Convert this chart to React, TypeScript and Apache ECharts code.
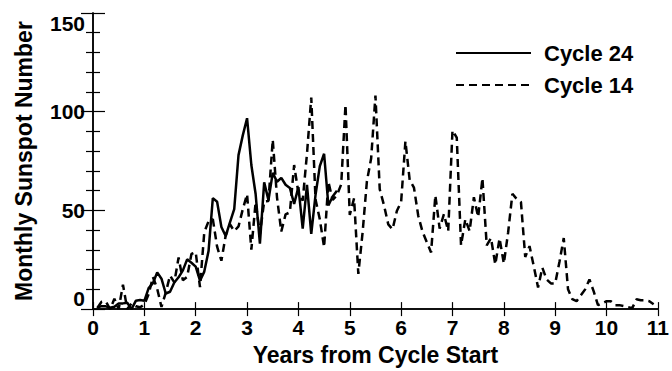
import React, { useEffect, useRef } from "react";
import * as echarts from "echarts";

// Monthly sunspot numbers, Cycle 24 (first point = month 1 after cycle start)
const cycle24Values: number[] = [
  0.8, 1.5, 1.4, 0.7, 1.2, 2.9, 2.9, 3.2, 0.0, 4.2, 4.6, 4.2,
  10.6, 13.1, 18.6, 15.4, 7.9, 8.8, 13.5, 16.1, 19.6, 25.2, 23.5, 21.5,
  14.4, 19.0, 29.4, 56.2, 54.4, 41.6, 37.0, 43.9, 50.6, 78.0, 88.0, 96.7,
  73.0, 58.3, 33.1, 64.2, 55.2, 69.0, 64.5, 66.5, 63.0, 61.4, 53.3, 61.8,
  40.8, 62.9, 38.1, 57.9, 72.4, 78.7, 52.5, 57.0, 60.0,
];

// Monthly sunspot numbers, Cycle 14 (first point = month 1 after cycle start)
const cycle14Values: number[] = [
  0.6, 3.7, 3.8, 0.0,
  5.2, 0.0, 12.4, 0.0, 2.8, 1.4, 0.9, 2.3, 7.6, 16.3, 10.3, 1.1,
  8.3, 17.0, 13.5, 26.1, 14.6, 16.3, 27.9, 28.8, 11.1, 38.9, 44.5, 45.6,
  31.6, 24.5, 37.2, 43.0, 39.5, 41.9, 50.6, 58.2, 30.1, 54.2, 38.0, 54.6,
  54.8, 85.8, 56.5, 39.3, 48.0, 49.0, 73.0, 58.8, 55.0, 78.7, 107.2, 55.5,
  45.5, 31.3, 64.5, 55.3, 57.7, 63.2, 103.6, 47.7, 56.1, 17.8, 38.9, 64.7,
  76.4, 108.2, 60.7, 52.6, 42.9, 40.4, 49.7, 54.3, 85.0, 65.4, 61.5, 47.3,
  39.2, 33.9, 28.7, 57.6, 40.8, 48.1, 39.5, 90.5, 86.9, 32.3, 45.5, 39.5,
  56.7, 46.6, 66.3, 32.3, 36.0, 22.6, 35.8, 23.1, 38.8, 58.4, 55.8, 54.2,
  26.4, 31.9, 21.7, 11, 21, 15, 13, 13, 24, 36, 10, 5,
  4, 7, 10, 15, 9, 2, 3, 4, 4, 2, 2, 1.5,
  1, 0.5, 5, 4.5, 4.5, 4, 2.5,
];

const startMonth = 1;
const seriesNames = ["Cycle 24", "Cycle 14"];
const xTitle = "Years from Cycle Start";
const yTitle = "Monthly Sunspot Number";

const FONT = "'Liberation Sans', Arial, Helvetica, sans-serif";

const toPairs = (vals: number[]) => vals.map((v, i) => [(startMonth + i) / 12, v]);

export default function App() {
  const ref = useRef<HTMLDivElement>(null);
  useEffect(() => {
    if (!ref.current) return;
    const chart = echarts.init(ref.current, null, { renderer: "svg" });
    const axisLine = { show: true, lineStyle: { color: "#000", width: 1.5 } };
    const labelStyle = {
      fontSize: 21,
      fontWeight: "bold" as const,
      color: "#000",
      fontFamily: FONT,
    };
    const yCommon = {
      type: "value" as const,
      min: 0,
      max: 150,
      interval: 50,
      axisLine,
      splitLine: { show: false },
      axisTick: { show: true, inside: true, length: 12, lineStyle: { color: "#000", width: 1.2 } },
      minorTick: { show: true, splitNumber: 5, length: 7, lineStyle: { color: "#000", width: 1.2 } },
    };
    const xCommon = {
      type: "value" as const,
      min: 0,
      max: 11,
      interval: 1,
      axisLine,
      splitLine: { show: false },
      axisTick: { show: true, inside: true, length: 7, lineStyle: { color: "#000", width: 1.2 } },
    };
    chart.setOption({
      animation: false,
      backgroundColor: "#fff",
      grid: { left: 93, right: 12, top: 13, bottom: 58, containLabel: false },
      legend: {
        orient: "vertical",
        left: 455,
        top: 42,
        padding: 0,
        itemWidth: 75,
        itemHeight: 22,
        itemGap: 10,
        data: seriesNames,
        itemStyle: { opacity: 0 },
        textStyle: { ...labelStyle, fontSize: 22, padding: [0, 0, 0, 8] },
        selectedMode: false,
      },
      xAxis: [
        {
          ...xCommon,
          position: "bottom",
          name: xTitle,
          nameLocation: "middle",
          nameGap: 33,
          nameTextStyle: { ...labelStyle, fontSize: 23 },
          axisLabel: { ...labelStyle, margin: 8 },
        },
        { ...xCommon, position: "top", axisLabel: { show: false } },
      ],
      yAxis: [
        {
          ...yCommon,
          position: "left",
          name: yTitle,
          nameLocation: "middle",
          nameGap: 58,
          nameTextStyle: { ...labelStyle, fontSize: 23 },
          axisLabel: {
            ...labelStyle,
            margin: 8,
            verticalAlignMinLabel: "bottom",
            verticalAlignMaxLabel: "top",
          },
        },
        { ...yCommon, position: "right", axisLabel: { show: false } },
      ],
      series: [
        {
          name: seriesNames[0],
          type: "line",
          data: toPairs(cycle24Values),
          symbol: "none",
          lineStyle: { color: "#000", width: 2.5, type: "solid" },
          itemStyle: { color: "#000" },
        },
        {
          name: seriesNames[1],
          type: "line",
          data: toPairs(cycle14Values),
          symbol: "none",
          lineStyle: { color: "#000", width: 2.5, type: [8, 5] },
          itemStyle: { color: "#000" },
        },
      ],
    });
    return () => chart.dispose();
  }, []);
  return (
    <div style={{ position: "fixed", left: 0, top: 0, width: 672, height: 371, background: "#fff" }}>
      <div ref={ref} style={{ width: 672, height: 371 }} />
    </div>
  );
}
